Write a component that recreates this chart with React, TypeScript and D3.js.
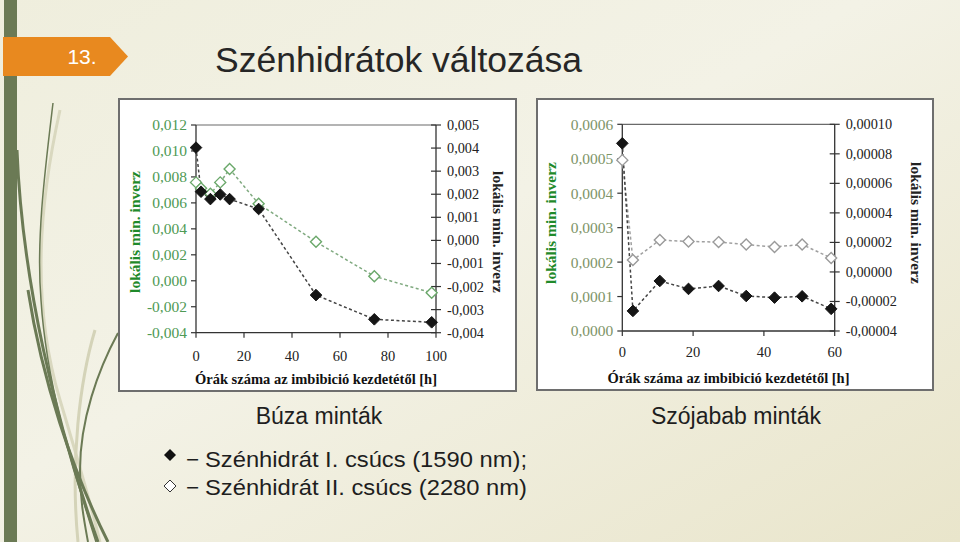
import React from "react";
import * as d3 from "d3";

// ---------- DATA ----------
const wheatHoursI = [0, 2.1, 6, 10.1, 14, 26.1, 50, 74.3, 98.2];
const wheatPeakI = [0.00402, 0.00211, 0.00179, 0.00199, 0.00179, 0.00136, -0.00237, -0.00342, -0.00355];
const wheatHoursII = [0, 2.1, 6, 10.1, 14, 26.1, 50, 74.3, 98.2];
const wheatPeakII = [0.00758, 0.00712, 0.0067, 0.00758, 0.00861, 0.00593, 0.003, 0.00035, -0.00093];

const soyHoursI = [0, 3, 10.6, 18.7, 27.2, 35, 43, 50.8, 59];
const soyPeakI = [0.0000871, -0.0000264, -0.0000061, -0.0000115, -0.0000095, -0.0000163, -0.0000174, -0.0000165, -0.000025];
const soyHoursII = [0, 3, 10.6, 18.7, 27.2, 35, 43, 50.8, 59];
const soyPeakII = [0.000496, 0.000206, 0.000264, 0.00026, 0.000258, 0.000251, 0.000244, 0.000251, 0.000212];

const wheatXTicks = [0, 20, 40, 60, 80, 100];
const wheatLeftTicks = [0.012, 0.01, 0.008, 0.006, 0.004, 0.002, 0, -0.002, -0.004];
const wheatRightTicks = [0.005, 0.004, 0.003, 0.002, 0.001, 0, -0.001, -0.002, -0.003, -0.004];
const soyXTicks = [0, 20, 40, 60];
const soyLeftTicks = [0.0006, 0.0005, 0.0004, 0.0003, 0.0002, 0.0001, 0];
const soyRightTicks = [0.0001, 0.00008, 0.00006, 0.00004, 0.00002, 0, -0.00002, -0.00004];

const slideTitle = "Szénhidrátok változása";
const slideNumber = "13.";
const yTitle = "lokális min. inverz";
const xTitle = "Órák száma az imbibició kezdetétől [h]";
const captions = ["Búza minták", "Szójabab minták"];
const legendDash = "−";
const legendLabels = ["Szénhidrát I. csúcs (1590 nm);", "Szénhidrát II. csúcs (2280 nm)"];

const fmt = (v: number, dec: number) => {
  const s = Math.abs(v).toFixed(dec).replace(".", ",");
  return (v < -1e-12 ? "-" : "") + s;
};

const diamond = (cx: number, cy: number, r: number) =>
  `M${cx},${cy - r}L${cx + r},${cy}L${cx},${cy + r}L${cx - r},${cy}Z`;

interface ChartProps {
  frame: [number, number, number, number];
  plot: { x0: number; x1: number; y0: number; y1: number };
  xDomain: [number, number];
  leftDomain: [number, number];
  rightDomain: [number, number];
  xTicks: number[];
  leftTicks: number[];
  rightTicks: number[];
  leftDec: number;
  rightDec: number;
  hoursI: number[];
  valsI: number[];
  hoursII: number[];
  valsII: number[];
  leftLabelColor: string;
  leftTitleColor: string;
  openStroke: string;
  openLine: string;
  leftTitleX: number;
  rightTitleX: number;
  titleY: number;
  xLabelY: number;
  xTitleY: number;
}

function Chart(p: ChartProps) {
  const x = d3.scaleLinear().domain(p.xDomain).range([p.plot.x0, p.plot.x1]);
  const yl = d3.scaleLinear().domain(p.leftDomain).range([p.plot.y1, p.plot.y0]);
  const yr = d3.scaleLinear().domain(p.rightDomain).range([p.plot.y1, p.plot.y0]);
  const lineI = d3
    .line<number>()
    .x((_, i) => x(p.hoursI[i]))
    .y((d) => yr(d));
  const lineII = d3
    .line<number>()
    .x((_, i) => x(p.hoursII[i]))
    .y((d) => yl(d));
  const [fx, fy, fw, fh] = p.frame;
  const serif = "'Liberation Serif', 'DejaVu Serif', serif";
  const cx = (p.plot.x0 + p.plot.x1) / 2;
  return (
    <g fontFamily={serif}>
      <rect x={fx} y={fy} width={fw} height={fh} fill="#ffffff" stroke="#6e6e6e" strokeWidth={2} />
      <line x1={p.plot.x0} x2={p.plot.x1} y1={p.plot.y0} y2={p.plot.y0} stroke="#6a6a6a" strokeWidth={1.2} />
      <line x1={p.plot.x0} x2={p.plot.x0} y1={p.plot.y0} y2={p.plot.y1} stroke="#333" strokeWidth={1.3} />
      <line x1={p.plot.x1} x2={p.plot.x1} y1={p.plot.y0} y2={p.plot.y1} stroke="#333" strokeWidth={1.3} />
      <line x1={p.plot.x0} x2={p.plot.x1} y1={p.plot.y1} y2={p.plot.y1} stroke="#333" strokeWidth={1.3} />
      {p.leftTicks.map((t) => (
        <g key={"l" + t}>
          <line x1={p.plot.x0 - 5} x2={p.plot.x0} y1={yl(t)} y2={yl(t)} stroke="#333" strokeWidth={1.2} />
          <text x={p.plot.x0 - 9} y={yl(t)} dy="0.35em" textAnchor="end" fontSize={15.5} fill={p.leftLabelColor}>
            {fmt(t, p.leftDec)}
          </text>
        </g>
      ))}
      {p.rightTicks.map((t) => (
        <g key={"r" + t}>
          <line x1={p.plot.x1 - 5} x2={p.plot.x1 + 5} y1={yr(t)} y2={yr(t)} stroke="#333" strokeWidth={1.2} />
          <text x={p.plot.x1 + 11} y={yr(t)} dy="0.35em" textAnchor="start" fontSize={14.3} fill="#222">
            {fmt(t, p.rightDec)}
          </text>
        </g>
      ))}
      {p.xTicks.map((t) => (
        <g key={"x" + t}>
          <line x1={x(t)} x2={x(t)} y1={p.plot.y1} y2={p.plot.y1 + 5} stroke="#333" strokeWidth={1.2} />
          <text x={x(t)} y={p.xLabelY} dy="0.35em" textAnchor="middle" fontSize={14.5} fill="#222">
            {t}
          </text>
        </g>
      ))}
      <text x={cx} y={p.xTitleY} dy="0.35em" textAnchor="middle" fontSize={14.5} fontWeight="bold" fill="#111">
        {xTitle}
      </text>
      <text
        transform={`translate(${p.leftTitleX},${p.titleY}) rotate(-90)`}
        textAnchor="middle"
        dy="0.35em"
        fontSize={15.5}
        fontWeight="bold"
        fill={p.leftTitleColor}
      >
        {yTitle}
      </text>
      <text
        transform={`translate(${p.rightTitleX},${p.titleY}) rotate(90)`}
        textAnchor="middle"
        dy="0.35em"
        fontSize={15.5}
        fontWeight="bold"
        fill="#222"
      >
        {yTitle}
      </text>
      <path d={lineII(p.valsII) || ""} fill="none" stroke={p.openLine} strokeWidth={1.5} strokeDasharray="3,2.5" />
      <path d={lineI(p.valsI) || ""} fill="none" stroke="#444" strokeWidth={1.5} strokeDasharray="3,2.5" />
      {p.valsII.map((v, i) => (
        <path key={"o" + i} d={diamond(x(p.hoursII[i]), yl(v), 5.5)} fill="#fff" stroke={p.openStroke} strokeWidth={1.4} />
      ))}
      {p.valsI.map((v, i) => (
        <path key={"f" + i} d={diamond(x(p.hoursI[i]), yr(v), 5.8)} fill="#151515" stroke="#151515" strokeWidth={1} />
      ))}
    </g>
  );
}

export default function App() {
  const W = 960;
  const H = 542;
  const sans = "'Liberation Sans', Arial, sans-serif";
  return (
    <svg width={W} height={H} style={{ position: "absolute", left: 0, top: 0 }}>
      <defs>
        <linearGradient id="bg" x1="0" y1="0" x2="1" y2="1">
          <stop offset="0" stopColor="#efeedd" />
          <stop offset="0.45" stopColor="#f3f2e6" />
          <stop offset="1" stopColor="#e9e5cb" />
        </linearGradient>
      </defs>
      <rect x={0} y={0} width={W} height={H} fill="url(#bg)" />
      <rect x={4} y={0} width={13} height={H} fill="#6b7a55" />
      <g fill="none">
        <path d="M60,110 C40,200 30,300 60,400 C75,450 90,500 100,542" stroke="#d9d8bf" strokeWidth={3} />
        <path d="M95,330 C80,380 70,460 78,542" stroke="#d4d3b8" strokeWidth={3} />
        <path d="M53,103 C45,170 36,240 41,300 C46,380 70,460 96,542" stroke="#6b7a55" strokeWidth={1.5} />
        <path d="M17,150 C22,280 55,420 98,542" stroke="#6b7a55" strokeWidth={3} />
        <path d="M28,290 C42,380 72,470 108,542" stroke="#6b7a55" strokeWidth={3} />
        <path d="M118,333 C98,370 80,420 80,470 C80,500 84,520 88,542" stroke="#6b7a55" strokeWidth={2} />
      </g>
      <path d="M3,37 L110,37 L128,56.5 L110,76 L3,76 Z" fill="#e8891f" />
      <text x={82} y={57} dy="0.35em" textAnchor="middle" fontFamily={sans} fontSize={21} fill="#ffffff">
        {slideNumber}
      </text>
      <text x={215} y={72} fontFamily={sans} fontSize={35.5} fill="#262626">
        {slideTitle}
      </text>
      <Chart
        frame={[119, 99, 397, 292]}
        plot={{ x0: 196, x1: 436, y0: 125, y1: 332.7 }}
        xDomain={[0, 100]}
        leftDomain={[-0.004, 0.012]}
        rightDomain={[-0.004, 0.005]}
        xTicks={wheatXTicks}
        leftTicks={wheatLeftTicks}
        rightTicks={wheatRightTicks}
        leftDec={3}
        rightDec={3}
        hoursI={wheatHoursI}
        valsI={wheatPeakI}
        hoursII={wheatHoursII}
        valsII={wheatPeakII}
        leftLabelColor="#4f9a55"
        leftTitleColor="#1f8a2a"
        openStroke="#6aa86a"
        openLine="#80aa80"
        leftTitleX={135}
        rightTitleX={498}
        titleY={232}
        xLabelY={356}
        xTitleY={379}
      />
      <Chart
        frame={[537, 99, 396, 291]}
        plot={{ x0: 622.3, x1: 834.7, y0: 124.3, y1: 331 }}
        xDomain={[0, 60]}
        leftDomain={[0, 0.0006]}
        rightDomain={[-0.00004, 0.0001]}
        xTicks={soyXTicks}
        leftTicks={soyLeftTicks}
        rightTicks={soyRightTicks}
        leftDec={4}
        rightDec={5}
        hoursI={soyHoursI}
        valsI={soyPeakI}
        hoursII={soyHoursII}
        valsII={soyPeakII}
        leftLabelColor="#7e9468"
        leftTitleColor="#1f8a2a"
        openStroke="#9a9a9a"
        openLine="#a0a0a0"
        leftTitleX={551}
        rightTitleX={916}
        titleY={223}
        xLabelY={352}
        xTitleY={378}
      />
      <text x={319} y={424} textAnchor="middle" fontFamily={sans} fontSize={23} fill="#1e1e1e">
        {captions[0]}
      </text>
      <text x={736} y={424} textAnchor="middle" fontFamily={sans} fontSize={23} fill="#1e1e1e">
        {captions[1]}
      </text>
      <path d={diamond(170, 455, 6)} fill="#111" />
      <path d={diamond(170, 486, 6)} fill="#fff" stroke="#333" strokeWidth={1} />
      {legendLabels.map((lab, i) => (
        <g key={"lg" + i} fontFamily={sans} fontSize={22.5} fill="#1e1e1e">
          <text x={186} y={467 + i * 28}>{legendDash}</text>
          <text x={205} y={467 + i * 28} textLength={i === 0 ? 322 : 322} lengthAdjust="spacingAndGlyphs">
            {lab}
          </text>
        </g>
      ))}
    </svg>
  );
}
